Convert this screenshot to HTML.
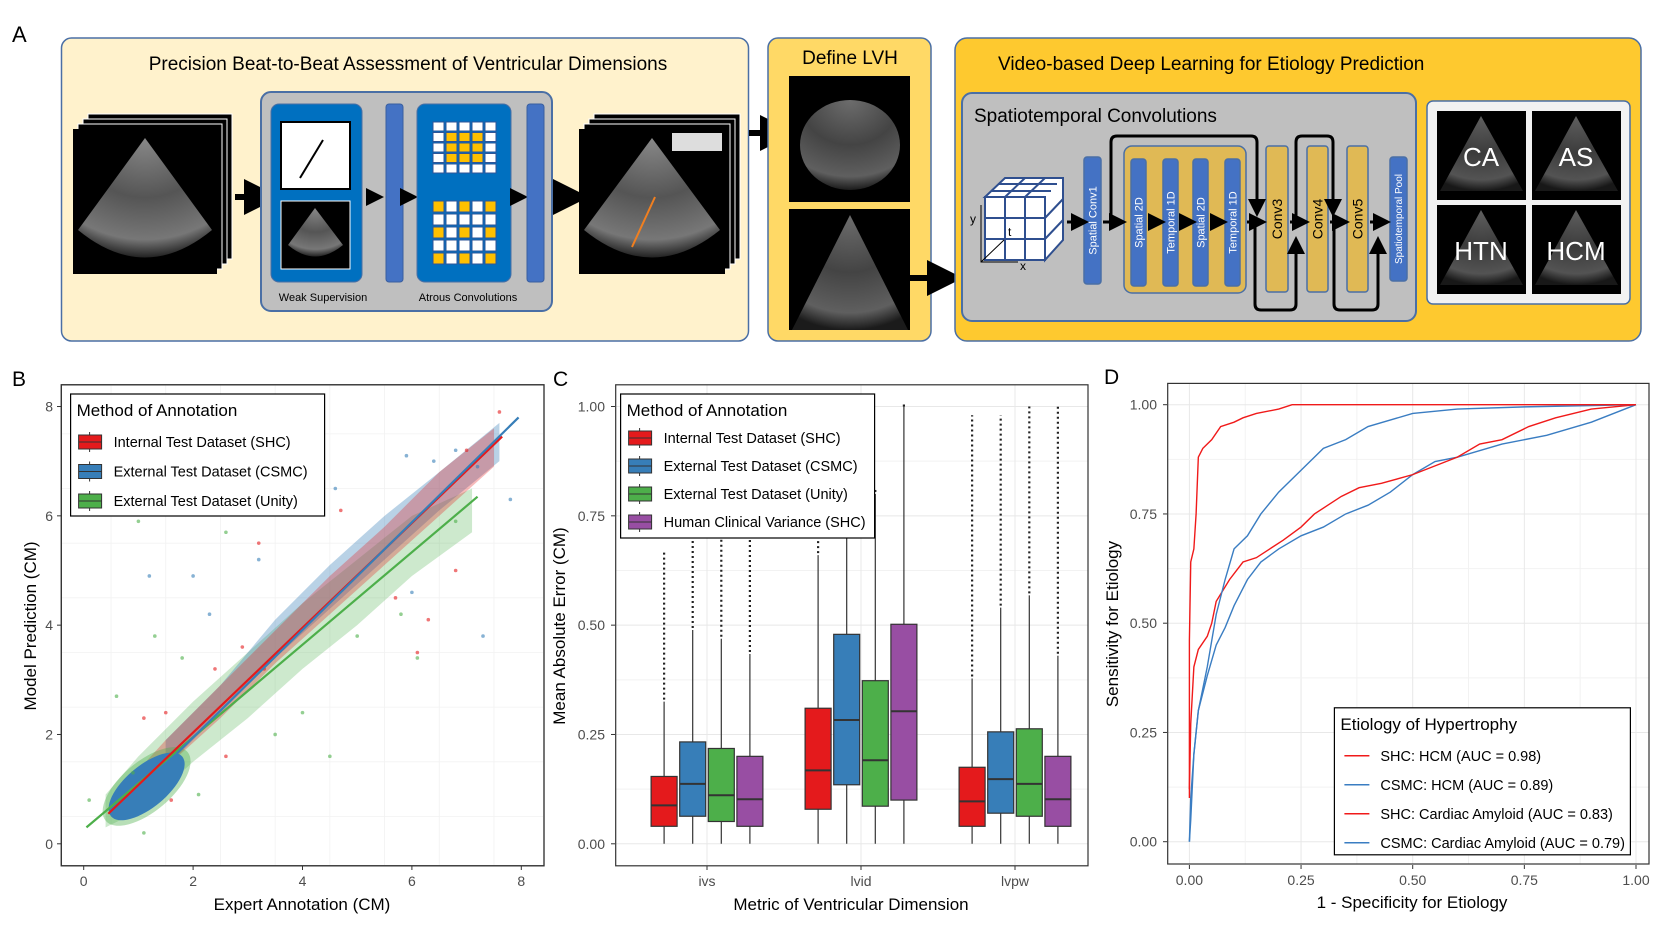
<!DOCTYPE html>
<html><head><meta charset="utf-8"><style>
body{margin:0;background:#fff}
svg{display:block;font-family:"Liberation Sans",Arial,sans-serif}
</style></head><body>
<svg id="fig" width="1663" height="932" viewBox="0 0 1663 932" xmlns="http://www.w3.org/2000/svg">
<defs>
<radialGradient id="echo" cx="0.5" cy="0" r="1">
<stop offset="0" stop-color="#888"/><stop offset="0.5" stop-color="#555"/><stop offset="0.85" stop-color="#777"/><stop offset="1" stop-color="#222"/>
</radialGradient>
<marker id="ah" markerWidth="6" markerHeight="6" refX="3" refY="3" orient="auto"><path d="M0,0 L6,3 L0,6z" fill="#000"/></marker>
</defs>

<!-- PANEL A -->
<g>
<text x="12" y="42" font-size="22">A</text>
<rect x="61.5" y="38" width="687" height="303" rx="10" fill="#fff2cc" stroke="#4a6fa5" stroke-width="1.5"/>
<text x="408" y="70" font-size="19" text-anchor="middle">Precision Beat-to-Beat Assessment of Ventricular Dimensions</text>
<g>
<rect x="88" y="114" width="144" height="145" fill="#000" stroke="#fff"/>
<rect x="83" y="119" width="144" height="145" fill="#000" stroke="#fff"/>
<rect x="78" y="124" width="144" height="145" fill="#000" stroke="#fff"/>
<rect x="73" y="129" width="144" height="145" fill="#000"/>
<path d="M145,138 L78,230 Q145,285 212,230 Z" fill="url(#echo)"/>
</g>
<path d="M235,197 H262" stroke="#000" stroke-width="6" marker-end="url(#ah)"/>
<rect x="261" y="92" width="291" height="219" rx="10" fill="#bfbfbf" stroke="#4a6fa5" stroke-width="2"/>
<rect x="271" y="104" width="91" height="178" rx="8" fill="#0070c0" stroke="#4a6fa5"/>
<rect x="281" y="122" width="69" height="67" fill="#fff" stroke="#000" stroke-width="2"/>
<path d="M300,178 L323,140" stroke="#000" stroke-width="2"/>
<rect x="281" y="201" width="69" height="68" fill="#000" stroke="#fff"/>
<path d="M315,208 L288,245 Q315,268 343,245 Z" fill="url(#echo)"/>
<path d="M366,197 H375" stroke="#000" stroke-width="3" marker-end="url(#ah)"/>
<rect x="386" y="104" width="17" height="178" rx="3" fill="#4472c4" stroke="#3a5f9f"/>
<path d="M405,197 H409" stroke="#000" stroke-width="3" marker-end="url(#ah)"/>
<rect x="417" y="104" width="94" height="178" rx="8" fill="#0070c0" stroke="#4a6fa5"/>
<g id="grids"></g>
<path d="M513,197 H519" stroke="#000" stroke-width="3" marker-end="url(#ah)"/>
<rect x="527" y="104" width="17" height="178" rx="3" fill="#4472c4" stroke="#3a5f9f"/>
<text x="323" y="301" font-size="11" text-anchor="middle">Weak Supervision</text>
<text x="468" y="301" font-size="11" text-anchor="middle">Atrous Convolutions</text>
<path d="M553,197 H571" stroke="#000" stroke-width="6" marker-end="url(#ah)"/>
<g>
<rect x="594" y="114" width="146" height="145" fill="#000" stroke="#fff"/>
<rect x="589" y="119" width="146" height="145" fill="#000" stroke="#fff"/>
<rect x="584" y="124" width="146" height="145" fill="#000" stroke="#fff"/>
<rect x="579" y="129" width="146" height="145" fill="#000"/>
<path d="M652,138 L584,230 Q652,285 720,230 Z" fill="url(#echo)"/>
<path d="M655,197 L632,247" stroke="#f07f20" stroke-width="2"/>
<rect x="672" y="133" width="50" height="18" fill="#ddd"/>
</g>
<path d="M749,133 H778" stroke="#000" stroke-width="6" marker-end="url(#ah)"/>
<rect x="768" y="38" width="163" height="303" rx="10" fill="#ffd966" stroke="#4a6fa5" stroke-width="1.5"/>
<text x="850" y="64" font-size="19" text-anchor="middle">Define LVH</text>
<rect x="789" y="76" width="121" height="126" fill="#000"/>
<ellipse cx="850" cy="145" rx="50" ry="45" fill="url(#echo)" opacity="0.8"/>
<rect x="789" y="209" width="121" height="121" fill="#000"/>
<path d="M850,215 L792,330 H908 Z" fill="url(#echo)" opacity="0.8"/>
<path d="M910,278 H945" stroke="#000" stroke-width="6" marker-end="url(#ah)"/>
<rect x="955" y="38" width="686" height="303" rx="12" fill="#fec92f" stroke="#4a6fa5" stroke-width="1.5"/>
<text x="998" y="70" font-size="19">Video-based Deep Learning for Etiology Prediction</text>
<rect x="962" y="93" width="454" height="228" rx="10" fill="#bfbfbf" stroke="#4a6fa5" stroke-width="2"/>
<text x="974" y="122" font-size="19">Spatiotemporal Convolutions</text>
<g fill="#fff" stroke="#2f4f8f" stroke-width="2">
<path d="M985,197 L1005,178 H1063 V240 L1045,260 V197 Z"/>
<rect x="985" y="197" width="60" height="63"/>
<path d="M1005,197 V260 M1025,197 V260 M985,218 H1045 M985,239 H1045 M991,191 H1051 M998,184 H1057 M1025,197 L1045,178 M1005,197 L1025,178 M1045,218 L1063,199 M1045,239 L1063,220"/>
</g>
<path d="M981,205 V262 H1018 M981,262 L1004,240" stroke="#000" fill="none"/>
<text x="970" y="223" font-size="12">y</text><text x="1008" y="236" font-size="12">t</text><text x="1020" y="270" font-size="12">x</text>
<g id="blocks"></g>
<rect x="1427" y="101" width="203" height="203" rx="6" fill="#f2f2f2" stroke="#4a6fa5" stroke-width="1.5"/>
<g id="classes"></g>
</g>

<!-- PANEL LABELS -->
<text x="12" y="386" font-size="21">B</text>
<text x="553" y="386" font-size="21">C</text>
<text x="1104" y="384" font-size="21">D</text>
<g id="chartB"></g><g id="chartC"></g><g id="chartD"></g>
</svg>
<script>
// ===== Panel B data =====
const bTicks=[0,2,4,6,8];
const fitX_red=[0.45,7.65], fitY_red=[0.55,7.45];
const fitX_blue=[1.7,7.95], fitY_blue=[1.65,7.8];
const fitX_green=[0.05,7.2], fitY_green=[0.3,6.35];
const bandX_green=[0.4,1,2,3,4,5,6,7.1], bandLo_green=[0.3,0.6,1.5,2.3,3.2,4.0,4.9,5.7], bandHi_green=[0.9,1.6,2.6,3.5,4.4,5.2,6.0,6.5];
const bandX_red=[0.5,1.5,2.5,3.5,4.5,5.5,6.5,7.5], bandLo_red=[0.5,1.4,2.3,3.3,4.2,5.1,6.0,6.9], bandHi_red=[0.8,1.9,2.9,3.9,4.9,5.8,6.8,7.6];
const bandX_blue=[1.5,2.5,3.5,4.5,5.5,6.5,7.6], bandLo_blue=[1.4,2.4,3.4,4.3,5.2,6.1,7.0], bandHi_blue=[1.9,2.9,4.1,5.1,6.0,6.8,7.7];
const clusterBlue=[1.15,1.05,0.85,0.38];
const ptsRed=[[1.5,2.4],[3.8,6.8],[2.9,3.6],[7.6,7.9],[6.3,4.1],[6.1,3.5],[5.7,4.5],[3.2,5.5],[3.3,3.2],[1.6,0.8],[2.4,3.2],[7.0,7.2],[2.6,1.6],[4.7,6.1],[6.8,5.0],[1.1,2.3]];
const ptsBlue=[[2.9,6.3],[3.6,6.4],[3.2,5.2],[6.0,4.6],[7.8,6.3],[6.8,7.2],[6.4,7.0],[7.2,6.9],[4.6,6.5],[5.9,7.1],[2.0,4.9],[1.2,4.9],[7.3,3.8],[2.3,4.2]];
const ptsGreen=[[1.0,5.9],[1.3,3.8],[0.6,2.7],[2.6,5.7],[0.1,0.8],[1.1,0.2],[5.8,4.2],[4.5,1.6],[6.1,3.4],[5.0,3.8],[2.1,0.9],[0.9,1.3],[3.5,2.0],[6.8,5.9],[4.0,2.4],[1.8,3.4]];
// ===== Panel C data =====
const cCats=["ivs","lvid","lvpw"];
const cTicks=[0,0.25,0.5,0.75,1.0];
const q1_shc=[0.040,0.079,0.040], med_shc=[0.088,0.168,0.097], q3_shc=[0.154,0.310,0.175], whi_shc=[0.325,0.66,0.378], out_shc=[0.67,0.72,0.98];
const q1_csmc=[0.063,0.135,0.070], med_csmc=[0.137,0.283,0.148], q3_csmc=[0.233,0.479,0.256], whi_csmc=[0.489,0.85,0.54], out_csmc=[0.74,0.86,0.98];
const q1_unity=[0.051,0.086,0.063], med_unity=[0.111,0.191,0.137], q3_unity=[0.218,0.373,0.263], whi_unity=[0.469,0.8,0.568], out_unity=[0.72,0.81,1.0];
const q1_human=[0.040,0.100,0.040], med_human=[0.102,0.303,0.102], q3_human=[0.200,0.502,0.200], whi_human=[0.434,1.0,0.43], out_human=[0.72,1.0,1.0];
// ===== Panel D data =====
const dTicks=[0,0.25,0.5,0.75,1.0];
const fpr_shcHcm=[0,0,0.003,0.01,0.015,0.02,0.03,0.05,0.07,0.1,0.12,0.15,0.2,0.23,1];
const tpr_shcHcm=[0.1,0.46,0.64,0.67,0.75,0.88,0.9,0.92,0.95,0.96,0.97,0.98,0.99,1.0,1.0];
const fpr_csmcHcm=[0,0.003,0.01,0.02,0.04,0.06,0.08,0.1,0.13,0.16,0.2,0.25,0.3,0.35,0.4,0.5,0.6,0.75,1];
const tpr_csmcHcm=[0,0.1,0.2,0.3,0.4,0.52,0.6,0.67,0.7,0.75,0.8,0.85,0.9,0.92,0.95,0.98,0.99,0.995,1];
const fpr_shcCa=[0,0.003,0.01,0.02,0.04,0.05,0.06,0.09,0.12,0.15,0.18,0.21,0.25,0.28,0.31,0.34,0.38,0.43,0.5,0.55,0.6,0.65,0.7,0.76,0.82,0.9,1];
const tpr_shcCa=[0.12,0.27,0.4,0.44,0.47,0.5,0.55,0.6,0.64,0.65,0.67,0.69,0.72,0.75,0.77,0.79,0.81,0.82,0.84,0.86,0.88,0.91,0.92,0.95,0.97,0.99,1];
const fpr_csmcCa=[0,0.003,0.01,0.02,0.04,0.06,0.08,0.1,0.13,0.16,0.2,0.25,0.3,0.35,0.4,0.45,0.5,0.55,0.6,0.7,0.8,0.9,1];
const tpr_csmcCa=[0,0.05,0.2,0.3,0.38,0.45,0.49,0.54,0.6,0.64,0.67,0.7,0.72,0.75,0.77,0.8,0.84,0.87,0.88,0.91,0.93,0.96,1];

const NS="http://www.w3.org/2000/svg";
function mk(parent,tag,attrs,txt){const e=document.createElementNS(NS,tag);for(const k in attrs)e.setAttribute(k,attrs[k]);if(txt!==undefined)e.textContent=txt;parent.appendChild(e);return e;}
const RED="#e41a1c",BLUE="#377eb8",GREEN="#4daf4a",PURPLE="#984ea3";

// ---- Panel A programmatic pieces
const grids=document.getElementById('grids');
for(let g=0;g<2;g++){const y0=g?201:122;for(let r=0;r<5;r++)for(let c=0;c<5;c++){
 let on = g===0 ? (r>=1&&r<=3&&c>=1&&c<=3) : (r%2===0&&c%2===0);
 const cell=mk(grids,'rect',{x:433+c*13,y:y0+r*(g?13:10.5),width:11,height:g?11:9,fill:on?'#ffc000':'#fff',stroke:'#2f5597','stroke-width':1});
 
 
}}
const blocks=document.getElementById('blocks');
function vblock(x,y,w,h,fill,label,fs,color){const r=mk(blocks,'rect',{x,y,width:w,height:h,rx:3,fill,stroke:'#4a6fa5','stroke-width':1.5});
 
 
 mk(blocks,'text',{x:x+w/2+fs*0.35,y:y+h/2,'font-size':fs,fill:color,'text-anchor':'middle',transform:`rotate(-90 ${x+w/2+fs*0.35} ${y+h/2})`},label);}
vblock(1084,157,17,127,'#4472c4','Spatial Conv1',11,'#fff');
mk(blocks,'rect',{x:1124,y:146,width:122,height:147,rx:8,fill:'#e0b955',stroke:'#4a6fa5','stroke-width':1.5});
vblock(1131,159,15,127,'#4472c4','Spatial 2D',11,'#fff');
vblock(1163,159,15,127,'#4472c4','Temporal 1D',11,'#fff');
vblock(1193,159,15,127,'#4472c4','Spatial 2D',11,'#fff');
vblock(1225,159,15,127,'#4472c4','Temporal 1D',11,'#fff');
vblock(1266,146,22,146,'#e0b955','Conv3',14,'#000');
vblock(1307,146,21,146,'#e0b955','Conv4',14,'#000');
vblock(1347,146,21,146,'#e0b955','Conv5',14,'#000');
vblock(1390,157,17,124,'#4472c4','Spatiotemporal Pool',10,'#fff');
[[1067,1080],[1103,1118],[1148,1157],[1180,1188],[1210,1219],[1247,1258],[1290,1301],[1330,1341],[1370,1382]].forEach(a=>mk(blocks,'path',{d:`M${a[0]},222 H${a[1]}`,stroke:'#000','stroke-width':3,'marker-end':'url(#ah)'}));
mk(blocks,'path',{d:'M1111,218 V142 Q1111,136 1117,136 H1251 Q1257,136 1257,142 V208',stroke:'#000','stroke-width':3,fill:'none','marker-end':'url(#ah)'});
mk(blocks,'path',{d:'M1296,218 V142 Q1296,136 1302,136 H1327 Q1333,136 1333,142 V208',stroke:'#000','stroke-width':3,fill:'none','marker-end':'url(#ah)'});
mk(blocks,'path',{d:'M1255,226 V304 Q1255,310 1261,310 H1290 Q1296,310 1296,304 V245',stroke:'#000','stroke-width':3,fill:'none','marker-end':'url(#ah)'});
mk(blocks,'path',{d:'M1334,226 V304 Q1334,310 1340,310 H1372 Q1378,310 1378,304 V245',stroke:'#000','stroke-width':3,fill:'none','marker-end':'url(#ah)'});
const classes=document.getElementById('classes');
[['CA',1437,111],['AS',1532,111],['HTN',1437,205],['HCM',1532,205]].forEach(c=>{
 const r=mk(classes,'rect',{x:c[1],y:c[2],width:89,height:89,fill:'#000'});
 
 
 mk(classes,'path',{d:`M${c[1]+44},${c[2]+5} L${c[1]+3},${c[2]+80} H${c[1]+86} Z`,fill:'url(#echo)',opacity:0.7});
 mk(classes,'text',{x:c[1]+44,y:c[2]+55,'font-size':26,fill:'#fff','text-anchor':'middle'},c[0]);
});

// ---- Panel B
const gB=document.getElementById('chartB');
const xB=v=>83.7+54.7*v, yB=v=>843.8-54.66*v;
mk(gB,'rect',{x:61.3,y:384.8,width:482.7,height:481,fill:'#fff',stroke:'#333','stroke-width':1.2});
for(let v=-0.5;v<=8.5;v+=1){const mj=Number.isInteger(v/2);
 if(xB(v)>62&&xB(v)<543)mk(gB,'line',{x1:xB(v),x2:xB(v),y1:385.5,y2:865,stroke:mj?'#e8e8e8':'#f2f2f2','stroke-width':mj?1.2:0.8});
 if(yB(v)>385&&yB(v)<865)mk(gB,'line',{x1:62,x2:543,y1:yB(v),y2:yB(v),stroke:mj?'#e8e8e8':'#f2f2f2','stroke-width':mj?1.2:0.8});}
mk(gB,'rect',{x:61.3,y:384.8,width:482.7,height:481,fill:'none',stroke:'#333','stroke-width':1.2});
function band(g,X,L,H,col,op,name){let d='M'+X.map((x,i)=>xB(x)+','+yB(H[i])).join(' L')+' L'+X.slice().reverse().map((x,i)=>xB(x)+','+yB(L[L.length-1-i])).join(' L')+'Z';
 const p=mk(g,'path',{d,fill:col,opacity:op});
 
 }
band(gB,bandX_green,bandLo_green,bandHi_green,GREEN,0.28,'scatter-density-unity');
band(gB,bandX_blue,bandLo_blue,bandHi_blue,BLUE,0.35,'scatter-density-csmc');
band(gB,bandX_red,bandLo_red,bandHi_red,RED,0.3,'scatter-density-shc');
mk(gB,'ellipse',{cx:xB(clusterBlue[0]),cy:yB(clusterBlue[1]),rx:clusterBlue[2]*54.7*1.15,ry:clusterBlue[3]*54.7*1.2,fill:GREEN,opacity:0.4,transform:`rotate(-40 ${xB(clusterBlue[0])} ${yB(clusterBlue[1])})`});
const cl=mk(gB,'ellipse',{cx:xB(clusterBlue[0]),cy:yB(clusterBlue[1]),rx:clusterBlue[2]*54.7,ry:clusterBlue[3]*54.7,fill:BLUE,transform:`rotate(-40 ${xB(clusterBlue[0])} ${yB(clusterBlue[1])})`});


[[ptsRed,RED],[ptsBlue,BLUE],[ptsGreen,GREEN]].forEach(s=>s[0].forEach(p=>{const c=mk(gB,'circle',{cx:xB(p[0]),cy:yB(p[1]),r:1.8,fill:s[1],opacity:0.6});
 
 }));
[[fitX_green,fitY_green,GREEN,'fit-line-unity'],[fitX_red,fitY_red,RED,'fit-line-shc'],[fitX_blue,fitY_blue,BLUE,'fit-line-csmc']].forEach(f=>{const l=mk(gB,'line',{x1:xB(f[0][0]),y1:yB(f[1][0]),x2:xB(f[0][1]),y2:yB(f[1][1]),stroke:f[2],'stroke-width':2.2});
 
 });
bTicks.forEach(t=>{mk(gB,'line',{x1:xB(t),x2:xB(t),y1:866,y2:870,stroke:'#333'});mk(gB,'text',{x:xB(t),y:886,'font-size':14,fill:'#4d4d4d','text-anchor':'middle'},t);
 mk(gB,'line',{x1:57,x2:61,y1:yB(t),y2:yB(t),stroke:'#333'});mk(gB,'text',{x:53,y:yB(t)+5,'font-size':14,fill:'#4d4d4d','text-anchor':'end'},t);});
mk(gB,'text',{x:302,y:910,'font-size':17,'text-anchor':'middle'},'Expert Annotation (CM)');
mk(gB,'text',{x:36,y:626,'font-size':17,'text-anchor':'middle',transform:'rotate(-90 36 626)'},'Model Prediction (CM)');
function legendBox(g,x,y,w,h,title,items,boxKeys,start,step){mk(g,'rect',{x,y,width:w,height:h,fill:'#fff',stroke:'#000','stroke-width':1.2});
 mk(g,'text',{x:x+6,y:y+22,'font-size':17},title);
 items.forEach((it,i)=>{const cy=y+start+i*step;
  if(boxKeys){mk(g,'line',{x1:x+19,x2:x+19,y1:cy-10,y2:cy+10,stroke:'#333'});mk(g,'rect',{x:x+8,y:cy-7,width:23,height:14,fill:it[1],stroke:'#333'});mk(g,'line',{x1:x+8,x2:x+31,y1:cy,y2:cy,stroke:'#333'});}
  else mk(g,'line',{x1:x+10,x2:x+35,y1:cy,y2:cy,stroke:it[1],'stroke-width':1.5});
  const t=mk(g,'text',{x:x+(boxKeys?43:46),y:cy+5,'font-size':14.5},it[0]);
  
  });}
legendBox(gB,70.6,394,254,122,'Method of Annotation',[['Internal Test Dataset (SHC)',RED],['External Test Dataset (CSMC)',BLUE],['External Test Dataset (Unity)',GREEN]],true,48,29.5);

// ---- Panel C
const gC=document.getElementById('chartC');
const yC=v=>843.8-437.3*v, xC=i=>707+i*154;
mk(gC,'rect',{x:615.7,y:384.8,width:472.3,height:481,fill:'#fff'});
for(let v=-0.125;v<=1.1;v+=0.125){if(yC(v)>385&&yC(v)<865)mk(gC,'line',{x1:616,x2:1088,y1:yC(v),y2:yC(v),stroke:Math.round(v*8)%2===0?'#e8e8e8':'#f2f2f2','stroke-width':1});}
cCats.forEach((c,i)=>mk(gC,'line',{x1:xC(i),x2:xC(i),y1:385,y2:865,stroke:'#e8e8e8'}));
const series=[[q1_shc,med_shc,q3_shc,whi_shc,out_shc,RED,'shc'],[q1_csmc,med_csmc,q3_csmc,whi_csmc,out_csmc,BLUE,'csmc'],[q1_unity,med_unity,q3_unity,whi_unity,out_unity,GREEN,'unity'],[q1_human,med_human,q3_human,whi_human,out_human,PURPLE,'human']];
cCats.forEach((cat,ci)=>series.forEach((s,si)=>{const cx=xC(ci)+(si-1.5)*28.6;
 mk(gC,'line',{x1:cx,x2:cx,y1:yC(0),y2:yC(s[3][ci]),stroke:'#333','stroke-width':1.2});
 mk(gC,'line',{x1:cx,x2:cx,y1:yC(s[3][ci])-2,y2:yC(s[4][ci]),stroke:'#222','stroke-width':2.2,'stroke-dasharray':'2 3'});
 const b=mk(gC,'rect',{x:cx-13,y:yC(s[2][ci]),width:26,height:yC(s[0][ci])-yC(s[2][ci]),fill:s[5],stroke:'#333','stroke-width':1.2});
 
 
 mk(gC,'line',{x1:cx-13,x2:cx+13,y1:yC(s[1][ci]),y2:yC(s[1][ci]),stroke:'#333','stroke-width':2});}));
mk(gC,'rect',{x:615.7,y:384.8,width:472.3,height:481,fill:'none',stroke:'#333','stroke-width':1.2});
cTicks.forEach(t=>{mk(gC,'line',{x1:611,x2:615,y1:yC(t),y2:yC(t),stroke:'#333'});mk(gC,'text',{x:605,y:yC(t)+5,'font-size':14,fill:'#4d4d4d','text-anchor':'end'},t.toFixed(2));});
cCats.forEach((c,i)=>{mk(gC,'line',{x1:xC(i),x2:xC(i),y1:866,y2:870,stroke:'#333'});mk(gC,'text',{x:xC(i),y:886,'font-size':14,fill:'#4d4d4d','text-anchor':'middle'},c);});
mk(gC,'text',{x:851,y:910,'font-size':17,'text-anchor':'middle'},'Metric of Ventricular Dimension');
mk(gC,'text',{x:565,y:626,'font-size':17,'text-anchor':'middle',transform:'rotate(-90 565 626)'},'Mean Absolute Error (CM)');
legendBox(gC,620.6,394,254,144,'Method of Annotation',[['Internal Test Dataset (SHC)',RED],['External Test Dataset (CSMC)',BLUE],['External Test Dataset (Unity)',GREEN],['Human Clinical Variance (SHC)',PURPLE]],true,44,28);

// ---- Panel D
const gD=document.getElementById('chartD');
const xD=v=>1189.4+446.6*v, yD=v=>841.7-437*v;
mk(gD,'rect',{x:1167.7,y:383.4,width:481.3,height:480.6,fill:'#fff'});
for(let v=-0.125;v<=1.1;v+=0.125){const mj=Math.round(v*8)%2===0;
 if(yD(v)>384&&yD(v)<864)mk(gD,'line',{x1:1168,x2:1649,y1:yD(v),y2:yD(v),stroke:mj?'#e8e8e8':'#f2f2f2'});
 if(xD(v)>1168&&xD(v)<1649)mk(gD,'line',{x1:xD(v),x2:xD(v),y1:384,y2:864,stroke:mj?'#e8e8e8':'#f2f2f2'});}
[[fpr_csmcCa,tpr_csmcCa,'#3a7dc2','roc-csmc-amyloid'],[fpr_shcCa,tpr_shcCa,'#f01a1a','roc-shc-amyloid'],[fpr_csmcHcm,tpr_csmcHcm,'#3a7dc2','roc-csmc-hcm'],[fpr_shcHcm,tpr_shcHcm,'#f01a1a','roc-shc-hcm']].forEach(s=>{
 let d='';s[0].forEach((f,i)=>{d+=(i?' L':'M')+xD(f)+','+yD(s[1][i]);});
 const p=mk(gD,'path',{d,fill:'none',stroke:s[2],'stroke-width':1.4});
 
 });
mk(gD,'rect',{x:1167.7,y:383.4,width:481.3,height:480.6,fill:'none',stroke:'#333','stroke-width':1.2});
dTicks.forEach(t=>{mk(gD,'line',{x1:1163,x2:1167,y1:yD(t),y2:yD(t),stroke:'#333'});mk(gD,'text',{x:1157,y:yD(t)+5,'font-size':14,fill:'#4d4d4d','text-anchor':'end'},t.toFixed(2));
 mk(gD,'line',{x1:xD(t),x2:xD(t),y1:865,y2:869,stroke:'#333'});mk(gD,'text',{x:xD(t),y:885,'font-size':14,fill:'#4d4d4d','text-anchor':'middle'},t.toFixed(2));});
mk(gD,'text',{x:1412,y:908,'font-size':17,'text-anchor':'middle'},'1 - Specificity for Etiology');
mk(gD,'text',{x:1118,y:624,'font-size':17,'text-anchor':'middle',transform:'rotate(-90 1118 624)'},'Sensitivity for Etiology');
legendBox(gD,1334.4,707.8,296,147,'Etiology of Hypertrophy',[['SHC: HCM (AUC = 0.98)','#f01a1a'],['CSMC: HCM (AUC = 0.89)','#3a7dc2'],['SHC: Cardiac Amyloid (AUC = 0.83)','#f01a1a'],['CSMC: Cardiac Amyloid (AUC = 0.79)','#3a7dc2']],false,48,29);
</script>
</body></html>
